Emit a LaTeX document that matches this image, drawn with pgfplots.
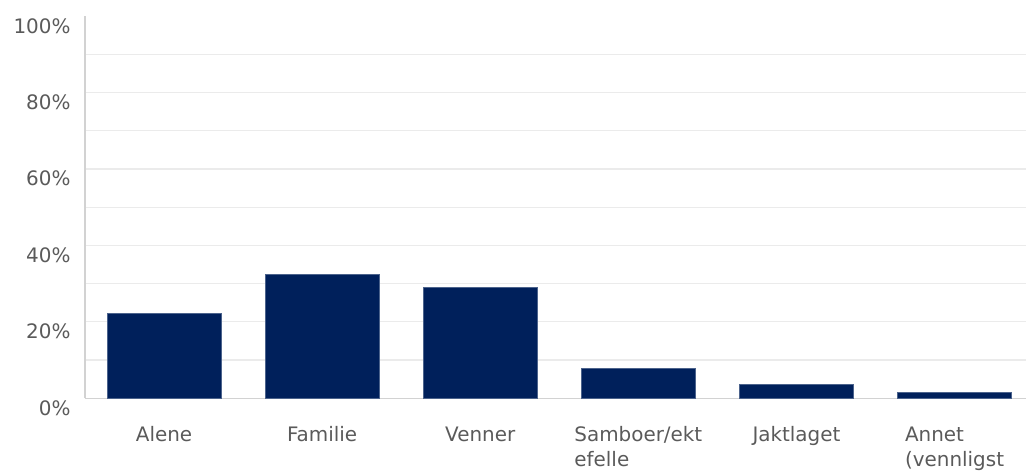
\documentclass[border=0pt]{standalone}
\usepackage{fontspec}
\setmainfont{DejaVu Sans}
\usepackage{pgfplots}
\pgfplotsset{compat=1.18}
\definecolor{barnavy}{HTML}{00205B}
\definecolor{gridgray}{HTML}{EBEBEB}
\definecolor{axisgray}{HTML}{D2D2D2}
\definecolor{labgray}{HTML}{5A5A5A}
\begin{document}
\begin{tikzpicture}[x=1bp,y=1bp]
\useasboundingbox (0,0) rectangle (1026,471);
\begin{axis}[
  at={(85bp,72.7bp)}, anchor=south west,
  scale only axis, width=941bp, height=382bp,
  xmin=-0.5, xmax=5.452, ymin=0, ymax=100,
  axis x line*=bottom, axis y line*=left,
  axis line style={draw=axisgray, line width=1.5bp, -},
  ybar, bar width=114bp, bar shift=0pt,
  xtick={0,1,2,3,4,5},
  xticklabels={{Alene\\\mbox{}},{Familie\\\mbox{}},{Venner\\\mbox{}},{Samboer/ekt\\efelle},{Jaktlaget\\\mbox{}},{Annet\\(vennligst}},
  ytick={0,20,...,100},
  yticklabel={\pgfmathparse{int(\tick)}\pgfmathresult\%},
  minor ytick={10,20,...,90},
  yminorgrids, ymajorgrids=false,
  minor grid style={draw=gridgray, line width=1.2bp},
  major tick length=0pt, minor tick length=0pt,
  tick label style={font=\fontsize{20}{25}\selectfont, text=labgray},
  xticklabel style={align=left, anchor=base, yshift=-68.4bp},
  yticklabel style={anchor=east, xshift=-11bp, yshift=-9.5bp},
]
\addplot[fill=barnavy, draw=barnavy!70!white, line width=0.6bp] coordinates {
  (0,22.2) (1,32.5) (2,29.1) (3,7.9) (4,3.7) (5,1.6)
};
\end{axis}
\end{tikzpicture}
\end{document}
